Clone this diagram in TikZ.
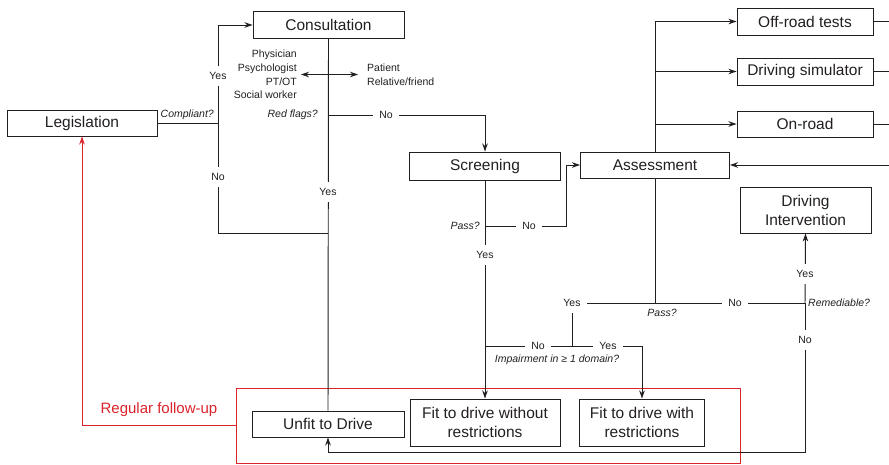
\documentclass[tikz,border=0pt]{standalone}
\usepackage{fontspec}
\setmainfont{Liberation Sans}
\usetikzlibrary{arrows.meta}
\definecolor{ink}{RGB}{35,31,32}
\definecolor{fred}{RGB}{218,35,42}
\begin{document}
\begin{tikzpicture}[x=1pt,y=-1pt,
  box/.style={draw=ink, line width=0.95pt, text=ink, font=\fontsize{15.5}{19}\selectfont, align=center, inner sep=0pt},
  ln/.style={draw=ink, line width=0.95pt},
  tip/.tip={Stealth[length=8pt,width=5.5pt,inset=2.5pt]},
  arr/.style={ln, -tip},
  redarr/.style={draw=fred, line width=0.95pt, -{Stealth[length=8pt,width=5.5pt,inset=2.5pt]}},
  lbl/.style={fill=white, text=ink, font=\fontsize{10.5}{13}\selectfont, inner xsep=6pt, inner ysep=6pt},
  q/.style={text=ink, font=\fontsize{10.5}{13}\selectfont\itshape, inner sep=0pt},
  txt/.style={text=ink, font=\fontsize{10.5}{13.7}\selectfont, inner sep=0pt},
]
\useasboundingbox (0,0) rectangle (889,464);

% boxes
\node[box, minimum width=150pt, minimum height=26pt] (leg) at (82,123) {Legislation};
\node[box, minimum width=151pt, minimum height=27pt] (cons) at (328.5,25) {Consultation};
\node[box, minimum width=151pt, minimum height=28pt] (scr) at (485,166) {Screening};
\node[box, minimum width=149pt, minimum height=26pt] (ass) at (655,165) {Assessment};
\node[box, minimum width=136pt, minimum height=27pt] (off) at (805,21.5) {Off-road tests};
\node[box, minimum width=136pt, minimum height=27pt] (sim) at (805,71.5) {Driving simulator};
\node[box, minimum width=136pt, minimum height=26pt] (onr) at (805,124) {On-road};
\node[box, minimum width=131pt, minimum height=46pt] (di) at (805.5,210) {Driving\\Intervention};
\node[box, minimum width=152pt, minimum height=26pt] (unfit) at (328,424) {Unfit to Drive};
\node[box, minimum width=150pt, minimum height=47pt] (fwo) at (485,422.5) {Fit to drive without\\restrictions};
\node[box, minimum width=125pt, minimum height=47pt] (fw) at (642,422.5) {Fit to drive with\\restrictions};
\node[draw=fred, line width=0.95pt, minimum width=504pt, minimum height=75pt, inner sep=0pt] (rb) at (488,425.5) {};

% coordinates
\coordinate (cj) at (218,123);
\coordinate (ctop) at (218,25);
\coordinate (cbot) at (218,233);
\coordinate (cmid) at (328,233);
\coordinate (rf) at (328,115);
\coordinate (rfr) at (485,115);
\coordinate (sp) at (485,226);
\coordinate (spr) at (566,226);
\coordinate (spu) at (566,165);
\coordinate (at) at (655,21.5);
\coordinate (a2) at (655,71.5);
\coordinate (a3) at (655,124);
\coordinate (e1) at (889,21.5);
\coordinate (e2) at (889,71.5);
\coordinate (e3) at (889,124);
\coordinate (e4) at (889,165);
\coordinate (pj) at (655,303);
\coordinate (ya) at (572,303);
\coordinate (rj) at (805,303);
\coordinate (ib) at (572,346);
\coordinate (il) at (485,346);
\coordinate (ir) at (642,346);
\coordinate (rb1) at (805,452);
\coordinate (rb2) at (328,452);
\coordinate (rl) at (82,425.5);

% connectors
\draw[ln] (leg.east) -- (cj);
\draw[arr] (cj) -- (ctop) -- (cons.west);
\draw[ln] (cj) -- (cbot) -- (cmid);
\draw[ln] (cons.south) -- (unfit.north);
\draw[arr] (rf) -- (rfr) -- (scr.north);
\draw[arr] (scr.south) -- (fwo.north);
\draw[arr] (sp) -- (spr) -- (spu) -- (ass.west);
\draw[ln] (ass.north) -- (at);
\draw[arr] (at) -- (off.west);
\draw[arr] (a2) -- (sim.west);
\draw[arr] (a3) -- (onr.west);
\draw[ln] (off.east) -- (e1);
\draw[ln] (sim.east) -- (e2);
\draw[ln] (onr.east) -- (e3);
\draw[arr] (e4) -- (ass.east);
\draw[ln] (ass.south) -- (pj);
\draw[ln] (ya) -- (rj);
\draw[ln] (ya) -- (ib);
\draw[ln] (il) -- (ir);
\draw[arr] (ir) -- (fw.north);
\draw[arr] (rj) -- (di.south);
\draw[arr] (rj) -- (rb1) -- (rb2) -- (unfit.south);
\draw[redarr] (rb.west) -- (rl) -- (leg.south);

% staff / patient
\node[txt, anchor=east, align=right] (staff) at (297,74.5) {Physician\\Psychologist\\PT/OT\\Social worker};
\node[txt, anchor=west, align=left] (pat) at (367,74.5) {Patient\\Relative/friend};
\draw[ln, tip-tip, shorten <=4pt, shorten >=9pt] (staff.east) -- (pat.west);

% labels on lines
\node[lbl] (l1) at (218,76) {Yes};
\node[lbl] (l2) at (218,177) {No};
\node[lbl] (l3) at (328,192) {Yes};
\node[lbl] (l4) at (386,115) {No};
\node[lbl] (l5) at (529,226) {No};
\node[lbl] (l6) at (485,255) {Yes};
\node[lbl] (l7) at (572,303) {Yes};
\node[lbl] (l8) at (735,303) {No};
\node[lbl] (l9) at (538,346) {No};
\node[lbl] (l10) at (608,346) {Yes};
\node[lbl] (l11) at (805,274) {Yes};
\node[lbl] (l12) at (805,340) {No};

% questions
\node[q, anchor=east] (qc) at (214,115) {Compliant?};
\node[q, anchor=east] (qr) at (318,115) {Red flags?};
\node[q, anchor=east] (qp) at (480,226) {Pass?};
\node[q] (qp2) at (662,313) {Pass?};
\node[q, anchor=west] (qrem) at (808,303) {Remediable?};
\node[q] (qi) at (557,360) {Impairment in ≥ 1 domain?};

\node[text=fred, font=\fontsize{15}{18}\selectfont, inner sep=0pt] (rfu) at (159,410) {Regular follow-up};
\end{tikzpicture}
\end{document}
